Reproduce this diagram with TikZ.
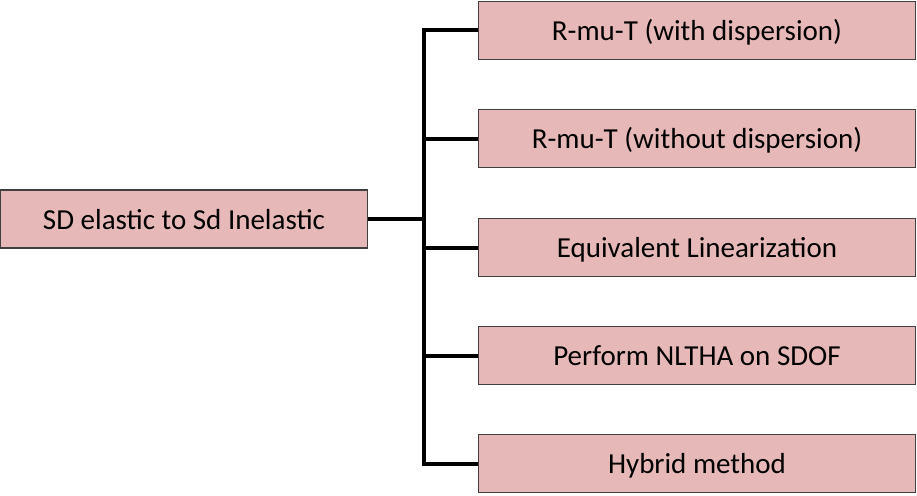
\documentclass[tikz,border=0pt]{standalone}
\usepackage{fontspec}
\setmainfont{Carlito}
\definecolor{boxfill}{HTML}{E6B9B8}
\definecolor{boxline}{HTML}{3F3F3F}
\tikzset{
  leafbox/.style={draw=boxline,line width=1.2pt,fill=boxfill,minimum width=437pt,minimum height=58pt,inner sep=0pt,text height=25pt,text depth=5pt,font=\fontsize{29}{34}\selectfont},
  rootbox/.style={leafbox,minimum width=367pt},
  branch/.style={line width=4pt,black}
}
\begin{document}
\begin{tikzpicture}[x=1pt,y=-1pt]
  \useasboundingbox (0,0) rectangle (917,495);
  \node[rootbox] (root) at (184,219) {SD elastic to Sd Inelastic};
  \node[leafbox] (m1) at (697,30.5) {R-mu-T (with dispersion)};
  \node[leafbox] (m2) at (697,138.5) {R-mu-T (without dispersion)};
  \node[leafbox] (m3) at (697,247.5) {Equivalent Linearization};
  \node[leafbox] (m4) at (697,355.5) {Perform NLTHA on SDOF};
  \node[leafbox] (m5) at (697,463.5) {Hybrid method};
  \coordinate (jt) at (424,219);
  \draw[branch] (root.east) -- (jt);
  \draw[branch] (m1.west) -- (jt |- m1.west) -- (jt |- m5.west) -- (m5.west);
  \foreach \k in {2,3,4}
    \draw[branch] (jt |- m\k.west) -- (m\k.west);
\end{tikzpicture}
\end{document}
